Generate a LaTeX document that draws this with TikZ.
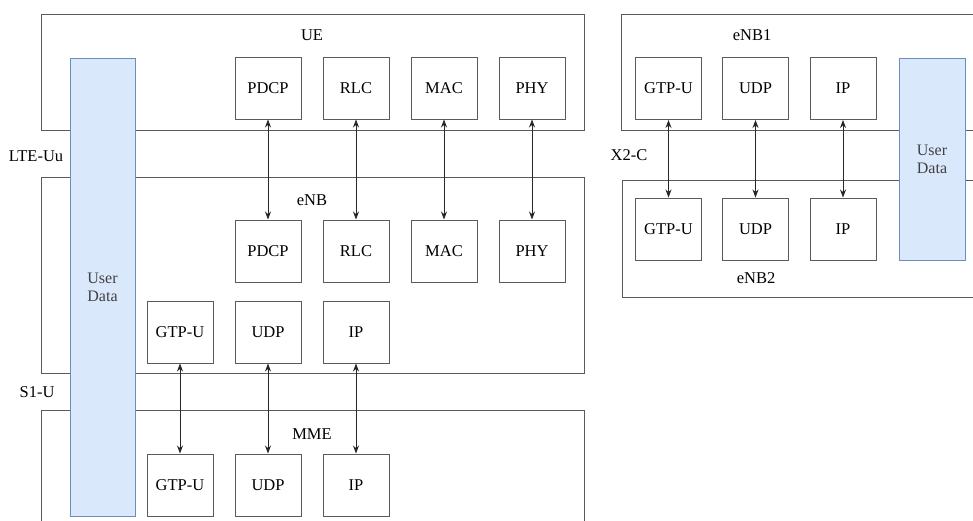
\documentclass[tikz,border=0pt]{standalone}
\usepackage{fontspec}
\setmainfont{Liberation Serif}
\usetikzlibrary{arrows.meta}
\definecolor{udfill}{HTML}{DAE8FC}
\definecolor{udline}{HTML}{6C8EBF}
\definecolor{boxline}{HTML}{5A5A5A}
\begin{document}
\begin{tikzpicture}[x=1pt,y=-1pt,
  font=\fontsize{16.5}{19}\selectfont,
  container/.style={draw=boxline,line width=1pt,fill=white,inner sep=0pt,anchor=north west},
  stackbox/.style={draw=boxline,line width=1pt,fill=white,minimum width=66pt,minimum height=62pt,inner sep=0pt},
  userdata/.style={draw=udline,line width=1pt,fill=udfill,inner sep=0pt,anchor=north west},
  udtext/.style={align=center,text=black!75,inner sep=0pt,font=\fontsize{16}{18}\selectfont},
  lbl/.style={inner sep=0pt},
  link/.style={{Stealth[length=8pt,width=6pt]}-{Stealth[length=8pt,width=6pt]},line width=0.8pt,black!85}]
\useasboundingbox (0,0) rectangle (973,520);
\clip (0,0) rectangle (973,520);
% containers
\node[container,minimum width=543pt,minimum height=116pt] (ue) at (41,14) {};
\node[container,minimum width=543pt,minimum height=196pt] (enb) at (41,177) {};
\node[container,minimum width=543pt,minimum height=140pt] (mme) at (41,410) {};
\node[container,minimum width=380pt,minimum height=116pt] (enb1) at (621,14) {};
\node[container,minimum width=380pt,minimum height=117pt] (enb2) at (622,180) {};
% container labels
\node[lbl] (uelbl) at (312,35) {UE};
\node[lbl] (enblbl) at (312,200) {eNB};
\node[lbl] (mmelbl) at (312,434) {MME};
\node[lbl] (enb1lbl) at (752,35) {eNB1};
\node[lbl] (enb2lbl) at (756,278) {eNB2};
\node[lbl] (ltelbl) at (36,156) {LTE-Uu};
\node[lbl] (s1lbl) at (37,392) {S1-U};
\node[lbl] (x2lbl) at (629,155) {X2-C};
% user data bars
\node[userdata,minimum width=65pt,minimum height=458pt] (udl) at (70,58) {};
\node[udtext] (udltxt) at (102.5,287) {User\\Data};
\node[userdata,minimum width=66pt,minimum height=202pt] (udr) at (899,58) {};
\node[udtext] (udrtxt) at (932,159) {User\\Data};
% UE stack
\node[stackbox] (uepdcp) at (268,88) {PDCP};
\node[stackbox] (uerlc) at (356,88) {RLC};
\node[stackbox] (uemac) at (444,88) {MAC};
\node[stackbox] (uephy) at (532,88) {PHY};
% eNB stack
\node[stackbox] (enbpdcp) at (268,251) {PDCP};
\node[stackbox] (enbrlc) at (356,251) {RLC};
\node[stackbox] (enbmac) at (444,251) {MAC};
\node[stackbox] (enbphy) at (532,251) {PHY};
\node[stackbox] (enbgtp) at (180,332) {GTP-U};
\node[stackbox] (enbudp) at (268,332) {UDP};
\node[stackbox] (enbip) at (356,332) {IP};
% MME stack
\node[stackbox] (mmegtp) at (180,485) {GTP-U};
\node[stackbox] (mmeudp) at (268,485) {UDP};
\node[stackbox] (mmeip) at (356,485) {IP};
% eNB1 / eNB2
\node[stackbox] (e1gtp) at (668.5,88.5) {GTP-U};
\node[stackbox] (e1udp) at (755.5,88.5) {UDP};
\node[stackbox] (e1ip) at (843,88.5) {IP};
\node[stackbox] (e2gtp) at (668.5,229) {GTP-U};
\node[stackbox] (e2udp) at (755.5,229) {UDP};
\node[stackbox] (e2ip) at (843,229) {IP};
% links
\draw[link] (uepdcp) -- (enbpdcp);
\draw[link] (uerlc) -- (enbrlc);
\draw[link] (uemac) -- (enbmac);
\draw[link] (uephy) -- (enbphy);
\draw[link] (enbgtp) -- (mmegtp);
\draw[link] (enbudp) -- (mmeudp);
\draw[link] (enbip) -- (mmeip);
\draw[link] (e1gtp) -- (e2gtp);
\draw[link] (e1udp) -- (e2udp);
\draw[link] (e1ip) -- (e2ip);
\end{tikzpicture}
\end{document}
